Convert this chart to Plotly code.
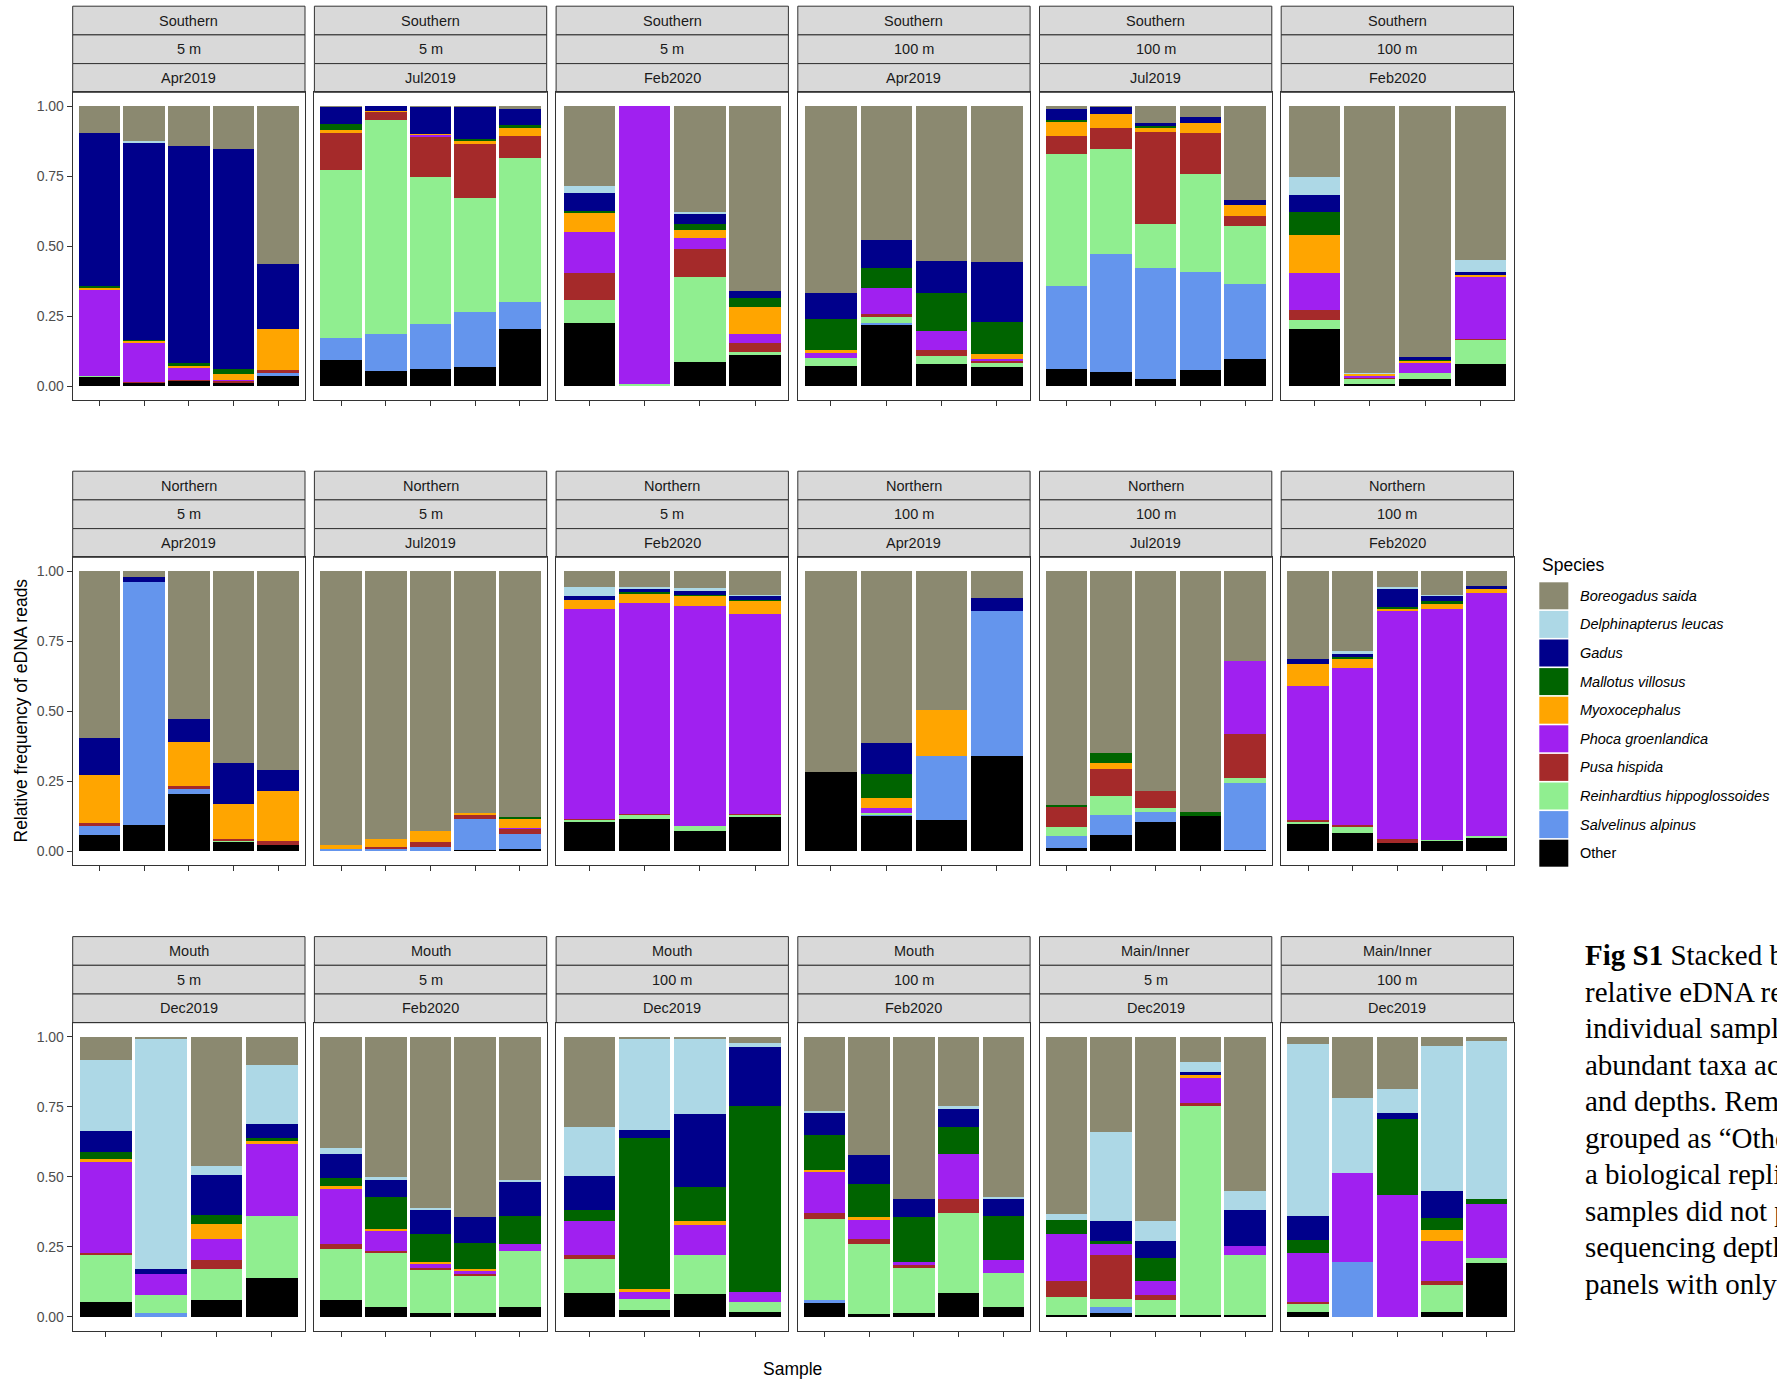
import plotly.graph_objects as go

W, H = 1777, 1381

# Facet labels (three strip rows per panel)
regions = ["Southern"] * 6 + ["Northern"] * 6 + ["Mouth"] * 4 + ["Main/Inner"] * 2
depths = ["5 m", "5 m", "5 m", "100 m", "100 m", "100 m"] * 2 + \
         ["5 m", "5 m", "100 m", "100 m", "5 m", "100 m"]
months = ["Apr2019", "Jul2019", "Feb2020"] * 4 + \
         ["Dec2019", "Feb2020", "Dec2019", "Feb2020", "Dec2019", "Dec2019"]

# Legend order (top of each stacked bar first)
species = ["Boreogadus saida", "Delphinapterus leucas", "Gadus", "Mallotus villosus",
           "Myoxocephalus", "Phoca groenlandica", "Pusa hispida",
           "Reinhardtius hippoglossoides", "Salvelinus alpinus", "Other"]
colors = ["#8B8970", "#ADD8E6", "#00008B", "#006400", "#FFA500",
          "#A020F0", "#A52A2A", "#90EE90", "#6495ED", "#000000"]

# Relative read frequency per panel, one value per sample (bar)
boreogadus_saida = [
    [.095, .124, .141, .153, .563], [.002, 0, .002, .002, .010], [.284, 0, .378, .659],
    [.666, .477, .551, .556], [.010, .002, .060, .038, .334], [.254, .951, .897, .550],
    [.597, .020, .527, .683, .710], [.978, .957, .928, .862, .877], [.056, .056, .061, .083],
    [.718, .615, .495, .095], [.835, .648, .785, .859, .319], [.314, .286, .057, .083, .054],
    [.083, .009, .460, .101], [.398, .501, .611, .645, .511], [.323, .006, .009, .021],
    [.265, .424, .578, .246, .572], [.632, .341, .659, .089, .550], [.027, .220, .188, .033, .015]]
delphinapterus_leucas = [
    [0, .005, 0, 0, 0], [0, 0, 0, 0, 0], [.027, 0, .006, 0],
    [0, 0, 0, 0], [0, 0, 0, 0, 0], [.062, .006, 0, .040],
    [0, 0, 0, 0, 0], [0, 0, 0, 0, 0], [.033, .006, .010, .006],
    [0, 0, 0, 0], [0, 0, 0, 0, 0], [0, .009, .005, .006, 0],
    [.255, .819, .033, .210], [.021, .007, .006, 0, .006], [.176, .327, .267, .017],
    [.008, 0, 0, .013, .006], [.021, .318, .071, .036, .068], [.612, .267, .083, .517, .563]]
gadus = [
    [.547, .704, .775, .786, .234], [.060, .015, .097, .115, .057], [.063, 0, .035, .025],
    [.095, .102, .115, .216], [.040, .024, .012, .022, .018], [.063, 0, .007, .012],
    [.131, .018, .082, .149, .075], [0, 0, 0, 0, 0], [.012, .012, .012, .012],
    [0, .109, 0, .048], [0, 0, 0, 0, 0], [.018, .012, .067, .018, .009],
    [.075, .021, .142, .051], [.086, .064, .086, .091, .124], [.119, .029, .262, .211],
    [.077, .102, .067, .064, .063], [0, .071, .060, .012, .130], [.088, 0, .024, .097, 0]]
mallotus_villosus = [
    [.005, .005, .010, .016, 0], [.021, 0, 0, .006, .010], [.005, 0, .022, .032],
    [.108, .069, .136, .114], [.004, 0, .006, 0, 0], [.080, 0, .006, 0],
    [0, 0, 0, 0, 0], [0, 0, 0, 0, .006], [0, .006, .006, .006],
    [0, .085, 0, 0], [.006, .036, 0, .015, 0], [0, .006, .005, .010, 0],
    [.024, 0, .034, .012], [.027, .114, .100, .092, .101], [.039, .538, .119, .663],
    [.125, .119, .159, .096, .158], [.050, .012, .083, 0, 0], [.045, 0, .271, .045, .018]]
myoxocephalus = [
    [.010, .009, .007, .021, .143], [.012, .006, .004, .012, .030], [.069, 0, .030, .098],
    [.012, 0, 0, .017], [.051, .052, .012, .035, .039], [.138, .006, .006, .006],
    [.171, 0, .158, .123, .178], [.012, .027, .039, .009, .032], [.034, .033, .036, .046],
    [0, .035, .165, 0], [0, .022, 0, 0, 0], [.078, .033, .007, .018, .015],
    [.011, 0, .055, .010], [.011, .005, .006, .006, 0], [0, .012, .016, 0],
    [.006, .006, 0, 0, 0], [0, 0, 0, .011, 0], [0, 0, 0, .038, 0]]
phoca_groenlandica = [
    [.305, .137, .045, .006, 0], [0, 0, .007, 0, 0], [.149, .992, .040, .033],
    [.018, .092, .067, .007], [0, 0, 0, 0, 0], [.131, .006, .036, .222],
    [0, 0, 0, 0, 0], [0, 0, 0, 0, .004], [.748, .752, .786, .712],
    [0, .019, 0, 0], [0, 0, 0, 0, .262], [.477, .561, .816, .823, .867],
    [.324, .075, .075, .255], [.199, .075, .018, .013, .024], [.124, .023, .108, .035],
    [.148, .073, .012, .159, .044], [.170, .036, .051, .089, .033], [.174, .318, .434, .143, .194]]
pusa_hispida = [
    [0, .004, .004, .006, .012], [.132, .029, .141, .194, .079], [.093, 0, .098, .030],
    [0, .014, .024, .005], [.064, .075, .330, .146, .035], [.036, .006, 0, .005],
    [.012, 0, .012, .006, .013], [0, .006, .017, .012, .020], [.006, .006, 0, .006],
    [0, 0, 0, 0], [.072, .097, .062, 0, .159], [.006, .006, .012, 0, 0],
    [.009, 0, .032, 0], [.016, .004, .004, .005, 0], [.012, 0, 0, 0],
    [.022, .018, .006, .051, 0], [.057, .158, .018, .006, 0], [.006, 0, 0, .012, 0]]
reinhardtius_hippoglossoides = [
    [.003, 0, 0, 0, 0], [.599, .764, .528, .405, .513], [.083, .008, .304, .012],
    [.029, .019, .029, .016], [.473, .374, .159, .350, .209], [.030, .015, .021, .084],
    [0, 0, 0, .006, 0], [0, 0, 0, 0, 0], [.006, .014, .017, .008],
    [0, .008, 0, 0], [.032, .068, .012, 0, .015], [.008, .021, 0, .006, .006],
    [.167, .062, .111, .224], [.183, .194, .157, .134, .198], [.121, .041, .139, .036],
    [.291, .250, .164, .285, .123], [.065, .028, .053, .752, .214], [.030, 0, 0, .097, .018]]
salvelinus_alpinus = [
    [0, 0, 0, 0, .012], [.079, .132, .159, .197, .098], [0, 0, 0, 0],
    [0, .009, 0, 0], [.295, .422, .394, .352, .266], [0, 0, 0, 0],
    [.032, .869, .018, 0, 0], [.010, .010, .016, .113, .051], [0, 0, 0, 0],
    [0, .004, .229, .516], [.043, .069, .036, 0, .241], [0, 0, 0, 0, 0],
    [0, .014, 0, 0], [0, 0, 0, 0, 0], [0, 0, 0, 0],
    [.006, 0, 0, 0, 0], [0, .022, 0, 0, 0], [0, .195, 0, 0, 0]]
other = [
    [.035, .012, .018, .012, .036], [.095, .054, .062, .069, .203], [.227, 0, .087, .111],
    [.072, .218, .078, .069], [.063, .051, .027, .057, .099], [.206, .010, .027, .081],
    [.057, .093, .203, .033, .024], [0, 0, 0, .004, .010], [.105, .115, .072, .121],
    [.282, .125, .111, .341], [.012, .060, .105, .126, .004], [.099, .066, .031, .036, .049],
    [.052, 0, .058, .137], [.059, .036, .012, .014, .036], [.086, .024, .080, .017],
    [.052, .008, .014, .086, .034], [.005, .014, .005, .005, .005], [.018, 0, 0, .018, .192]]

series = [boreogadus_saida, delphinapterus_leucas, gadus, mallotus_villosus, myoxocephalus,
          phoca_groenlandica, pusa_hispida, reinhardtius_hippoglossoides, salvelinus_alpinus, other]

y_ticks = [0, 0.25, 0.5, 0.75, 1.0]
y_tick_labels = ["0.00", "0.25", "0.50", "0.75", "1.00"]

caption_lines = [
    "<b>Fig S1</b> Stacked bar plots",
    "relative eDNA read",
    "individual samples",
    "abundant taxa across",
    "and depths. Remaining",
    "grouped as \u201cOther\u201d.",
    "a biological replicate.",
    "samples did not pass",
    "sequencing depth",
    "panels with only",
]

# ---- geometry (pixels) ----
SANS = "Liberation Sans, Arial, sans-serif"
PANEL_LEFT0, PANEL_PITCH, PANEL_W = 72.7, 241.7, 232.3
ROW_TOPS = [92.3, 557.3, 1022.7]
PANEL_H = 308.0
STRIP_H = 28.7
BORDER = "#333333"


def px_x(x):
    return x / W


def px_y(y):
    return 1 - y / H


fig = go.Figure()
layout = dict(
    width=W, height=H, margin=dict(l=0, r=0, t=0, b=0),
    paper_bgcolor="white", plot_bgcolor="white",
    barmode="stack", showlegend=False, font=dict(family=SANS),
)
shapes, annotations = [], []

for p in range(len(regions)):
    row, col = divmod(p, 6)
    k = p + 1
    n = len(boreogadus_saida[p])
    xs = list(range(1, n + 1))
    left = PANEL_LEFT0 + col * PANEL_PITCH
    right = left + PANEL_W
    top = ROW_TOPS[row]
    bottom = top + PANEL_H

    # stack from the bottom ("Other") up to the top (Boreogadus saida)
    for name, color, data in reversed(list(zip(species, colors, series))):
        fig.add_trace(go.Bar(
            x=xs, y=data[p], width=0.93, name=name,
            marker=dict(color=color, line=dict(width=0)),
            xaxis=f"x{k}", yaxis=f"y{k}", showlegend=False,
        ))

    first_col = col == 0
    layout[f"xaxis{k}"] = dict(
        domain=[px_x(left), px_x(right)], anchor=f"y{k}",
        range=[0.4, n + 0.6], tickvals=xs, showticklabels=False,
        ticks="outside", ticklen=5, tickwidth=1, tickcolor=BORDER,
        showline=True, mirror=True, linecolor=BORDER, linewidth=1,
        showgrid=False, zeroline=False, fixedrange=True,
    )
    layout[f"yaxis{k}"] = dict(
        domain=[px_y(bottom), px_y(top)], anchor=f"x{k}",
        range=[-0.05, 1.05], tickvals=y_ticks, ticktext=y_tick_labels,
        showticklabels=first_col, ticks="outside" if first_col else "",
        ticklen=5, tickwidth=1, tickcolor=BORDER,
        tickfont=dict(size=14, color="#4D4D4D", family=SANS),
        showline=True, mirror=True, linecolor=BORDER, linewidth=1,
        showgrid=False, zeroline=False, fixedrange=True,
    )

    # three strip labels above each panel
    for j, label in enumerate([regions[p], depths[p], months[p]]):
        s_top = top - (3 - j) * STRIP_H
        s_bot = s_top + STRIP_H
        shapes.append(dict(
            type="rect", xref="paper", yref="paper",
            x0=px_x(left), x1=px_x(right), y0=px_y(s_bot), y1=px_y(s_top),
            fillcolor="#D9D9D9", line=dict(color=BORDER, width=1), layer="below",
        ))
        annotations.append(dict(
            xref="paper", yref="paper", x=px_x((left + right) / 2),
            y=px_y((s_top + s_bot) / 2), text=label, showarrow=False,
            xanchor="center", yanchor="middle",
            font=dict(size=14.5, color="#1A1A1A", family=SANS),
        ))

# axis titles
annotations.append(dict(
    xref="paper", yref="paper", x=px_x(20.5), y=px_y(711),
    text="Relative frequency of eDNA reads", textangle=-90, showarrow=False,
    xanchor="center", yanchor="middle", font=dict(size=17.5, color="black", family=SANS),
))
annotations.append(dict(
    xref="paper", yref="paper", x=px_x(792), y=px_y(1369), text="Sample",
    showarrow=False, xanchor="center", yanchor="middle",
    font=dict(size=17.5, color="black", family=SANS),
))

# legend drawn as keys + labels
LEG_X, LEG_Y0, LEG_PITCH, KEY = 1539.3, 582.3, 28.6, 29.0
annotations.append(dict(
    xref="paper", yref="paper", x=px_x(1540), y=px_y(565),
    text="Species", showarrow=False, xanchor="left", yanchor="middle",
    font=dict(size=17.5, color="black", family=SANS),
))
for i, (name, color) in enumerate(zip(species, colors)):
    ky = LEG_Y0 + i * LEG_PITCH
    shapes.append(dict(
        type="rect", xref="paper", yref="paper",
        x0=px_x(LEG_X), x1=px_x(LEG_X + KEY), y0=px_y(ky + 27.0), y1=px_y(ky),
        fillcolor=color, line=dict(width=0),
    ))
    label = name if name == "Other" else f"<i>{name}</i>"
    annotations.append(dict(
        xref="paper", yref="paper", x=px_x(1578), y=px_y(ky + 13.5),
        text=label, showarrow=False, xanchor="left", yanchor="middle",
        font=dict(size=14.5, color="black", family=SANS),
    ))

# figure caption at the right (runs past the right edge of the page)
for i, line in enumerate(caption_lines):
    annotations.append(dict(
        xref="paper", yref="paper", x=px_x(1583), y=px_y(955 + i * 36.5),
        text=line, showarrow=False, xanchor="left", yanchor="middle",
        font=dict(size=29, color="black", family="Liberation Serif, Times New Roman, serif"),
    ))

layout["shapes"] = shapes
layout["annotations"] = annotations
fig.update_layout(**layout)
fig.write_html("out.html")
